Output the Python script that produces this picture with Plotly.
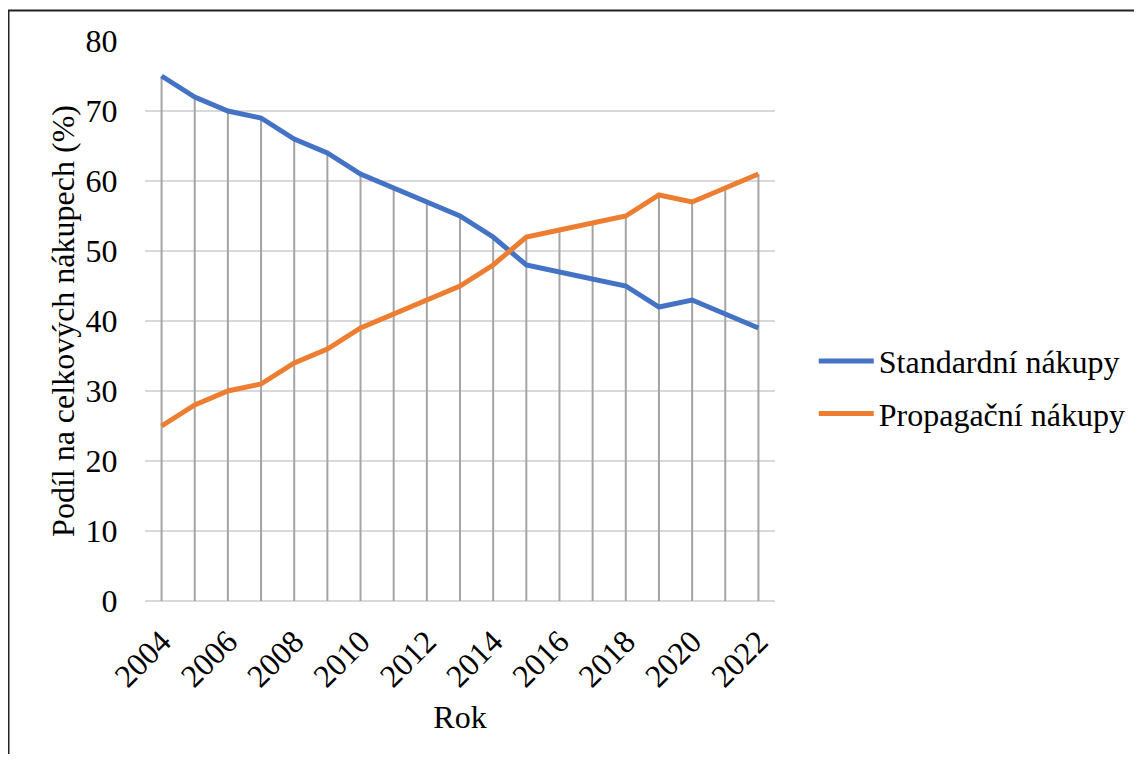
import plotly.graph_objects as go

years = list(range(2004, 2023))
standardni = [75, 72, 70, 69, 66, 64, 61, 59, 57, 55, 52, 48, 47, 46, 45, 42, 43, 41, 39]
propagacni = [25, 28, 30, 31, 34, 36, 39, 41, 43, 45, 48, 52, 53, 54, 55, 58, 57, 59, 61]
series_names = ["Standardní nákupy", "Propagační nákupy"]
y_title = "Podíl na celkových nákupech (%)"
x_title = "Rok"

FONT = "Liberation Serif"
FS = 32

# drop lines from the higher point down to the axis
dx, dy = [], []
for yr, a, b in zip(years, standardni, propagacni):
    dx += [yr, yr, None]
    dy += [0, max(a, b), None]

fig = go.Figure()
fig.add_trace(go.Scatter(x=dx, y=dy, mode="lines", line=dict(color="#A5A5A5", width=2),
                         showlegend=False, hoverinfo="skip"))
fig.add_trace(go.Scatter(x=years, y=standardni, mode="lines", name=series_names[0],
                         legendgroup="a", line=dict(color="#4472C4", width=5)))
fig.add_trace(go.Scatter(x=years, y=propagacni, mode="lines", name=series_names[1],
                         legendgroup="b", line=dict(color="#ED7D31", width=5)))

# figure sits at an 8px body offset in the page; plot area targets viewport 145..775 x 41..601
W, H = 1126, 746
L, T = 137, 33
PW, PH = 630, 560

fig.update_layout(
    width=W, height=H,
    margin=dict(l=L, r=W - L - PW, t=T, b=H - T - PH, autoexpand=False),
    paper_bgcolor="white", plot_bgcolor="white",
    font=dict(family=FONT, size=FS, color="black"),
    legend=dict(x=1.0615, y=0.381, xanchor="left", yanchor="middle",
                font=dict(family=FONT, size=FS, color="black"), tracegroupgap=8,
                itemwidth=55, bgcolor="rgba(0,0,0,0)"),
    xaxis=dict(range=[2003.5, 2022.5], tickmode="array", tickvals=years[::2],
               ticktext=[str(y) for y in years[::2]], tickangle=-45,
               tickfont=dict(family=FONT, size=FS, color="black"),
               showgrid=False, zeroline=False, showline=False,
               ticks="outside", ticklen=8, tickcolor="rgba(0,0,0,0)",
               title=dict(text=x_title, standoff=12, font=dict(family=FONT, size=FS, color="black")),
               automargin=False),
    yaxis=dict(range=[0, 80], dtick=10, showgrid=True, gridcolor="#D9D9D9", gridwidth=2,
               tickfont=dict(family=FONT, size=FS, color="black"),
               zeroline=True, zerolinecolor="#D9D9D9", zerolinewidth=2, showline=False,
               ticks="outside", ticklen=20, tickcolor="rgba(0,0,0,0)",
               title=dict(text=y_title, standoff=1, font=dict(family=FONT, size=FS, color="black")),
               automargin=False),
    shapes=[dict(type="rect", xref="paper", yref="paper",
                 x0=(0.5 - L) / PW, x1=(1300 - L) / PW,
                 y0=(T + PH - 900) / PH, y1=(T + PH - 2.5) / PH,
                 line=dict(color="#222222", width=2), fillcolor="rgba(0,0,0,0)", layer="below")],
)

fig.write_html("out.html")
